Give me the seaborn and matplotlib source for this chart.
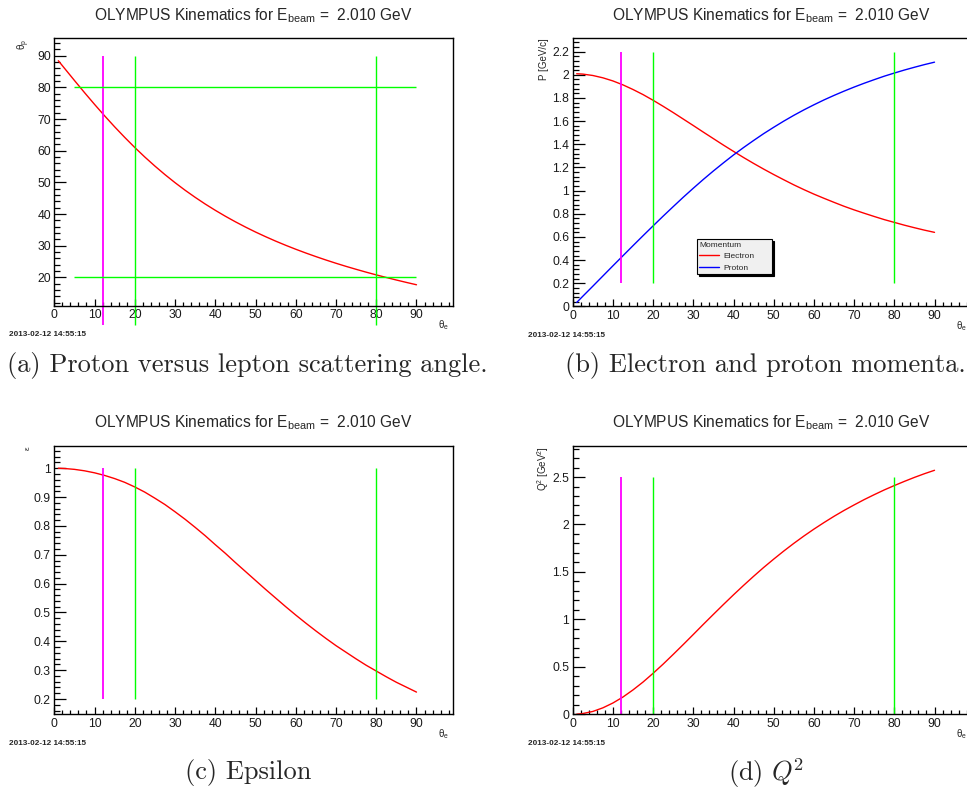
import matplotlib
matplotlib.use("Agg")
import matplotlib.pyplot as plt
import seaborn as sns
from matplotlib.ticker import MultipleLocator, FuncFormatter

# Kinematic curves (theta_e in degrees)
THETA_E = [1, 2.5, 5, 7.5, 10, 12.5, 15, 17.5, 20, 22.5, 25, 27.5, 30, 32.5, 35, 37.5,
           40, 42.5, 45, 47.5, 50, 52.5, 55, 57.5, 60, 62.5, 65, 67.5, 70, 72.5, 75,
           77.5, 80, 82.5, 85, 87.5, 90]
THETA_P = [88.42, 86.08, 82.19, 78.36, 74.63, 71.01, 67.53, 64.20, 61.01, 57.99, 55.14,
           52.44, 49.90, 47.51, 45.27, 43.15, 41.17, 39.30, 37.54, 35.88, 34.31, 32.84,
           31.44, 30.12, 28.87, 27.68, 26.55, 25.47, 24.44, 23.46, 22.53, 21.63, 20.77,
           19.95, 19.15, 18.39, 17.65]
P_ELECTRON = [2.009, 2.006, 1.994, 1.974, 1.947, 1.913, 1.873, 1.829, 1.780, 1.728,
              1.674, 1.618, 1.562, 1.505, 1.449, 1.393, 1.339, 1.286, 1.235, 1.186,
              1.139, 1.094, 1.050, 1.009, 0.970, 0.934, 0.899, 0.865, 0.834, 0.805,
              0.777, 0.750, 0.726, 0.702, 0.680, 0.659, 0.640]
P_PROTON = [0.035, 0.088, 0.175, 0.263, 0.351, 0.438, 0.525, 0.611, 0.696, 0.780,
            0.862, 0.943, 1.021, 1.097, 1.170, 1.240, 1.308, 1.372, 1.433, 1.492,
            1.547, 1.600, 1.650, 1.697, 1.741, 1.783, 1.822, 1.859, 1.894, 1.927,
            1.958, 1.988, 2.015, 2.041, 2.065, 2.088, 2.109]
EPSILON = [1.000, 0.999, 0.996, 0.991, 0.984, 0.975, 0.964, 0.951, 0.935, 0.917,
           0.896, 0.874, 0.849, 0.823, 0.795, 0.766, 0.735, 0.705, 0.673, 0.642,
           0.611, 0.580, 0.550, 0.520, 0.491, 0.463, 0.436, 0.410, 0.385, 0.362,
           0.339, 0.317, 0.297, 0.277, 0.258, 0.241, 0.224]
Q2 = [0.001, 0.008, 0.030, 0.068, 0.119, 0.182, 0.257, 0.340, 0.432, 0.529,
      0.631, 0.735, 0.841, 0.948, 1.053, 1.157, 1.259, 1.358, 1.454, 1.547,
      1.635, 1.720, 1.801, 1.878, 1.951, 2.020, 2.086, 2.148, 2.206, 2.262,
      2.314, 2.364, 2.410, 2.454, 2.496, 2.535, 2.571]

# acceptance cut lines
CUT_MAGENTA = [12]
CUT_GREEN = [20, 80]
THETA_P_CUTS = [20, 80]
CUT_RANGE_A = [5, 90]

TITLE = r"OLYMPUS Kinematics for E$_{\mathrm{beam}}$ =  2.010 GeV"
DATE = "2013-02-12 14:55:15"
CAPTIONS = ["(a) Proton versus lepton scattering angle.",
            "(b) Electron and proton momenta.",
            "(c) Epsilon",
            r"(d) $Q^{\!2}$"]

W, H = 967, 791
RED, BLUE, GREEN, MAGENTA = "#ff0000", "#0000ff", "#00ff00", "#ff00ff"

sns.set_style("ticks")
plt.rcParams["font.family"] = ["Liberation Sans", "DejaVu Sans"]
plt.rcParams["mathtext.fontset"] = "custom"
plt.rcParams["mathtext.rm"] = "Liberation Sans"
plt.rcParams["mathtext.it"] = "Liberation Sans:italic"
plt.rcParams["mathtext.bf"] = "Liberation Sans:bold"

fig = plt.figure(figsize=(W / 100, H / 100), dpi=100)
fig.patch.set_facecolor("white")


def px_axes(left, top, right, bottom):
    return fig.add_axes([left / W, 1 - bottom / H, (right - left) / W, (bottom - top) / H])


def fx(x):
    return x / W


def fy(y):
    return 1 - y / H


fmt = FuncFormatter(lambda v, _: f"{round(v, 3):g}")


def style_root(ax, ylim, ymajor, yminor):
    ax.set_xlim(0, 99)
    ax.set_ylim(*ylim)
    ax.xaxis.set_major_locator(MultipleLocator(10))
    ax.xaxis.set_minor_locator(MultipleLocator(2))
    ax.yaxis.set_major_locator(MultipleLocator(ymajor))
    ax.yaxis.set_minor_locator(MultipleLocator(yminor))
    ax.xaxis.set_major_formatter(fmt)
    ax.yaxis.set_major_formatter(fmt)
    ax.tick_params(axis="both", which="both", direction="in", top=False, right=False,
                   labelsize=8.7, colors="black", width=0.9)
    ax.tick_params(axis="both", which="both", labelcolor="#1a1a1a")
    ax.tick_params(axis="y", which="major", length=8.8, pad=2.5)
    ax.tick_params(axis="y", which="minor", length=4.6)
    ax.tick_params(axis="x", which="major", length=5.0, pad=2.5)
    ax.tick_params(axis="x", which="minor", length=2.8)
    for s in ax.spines.values():
        s.set_visible(True)
        s.set_color("black")
        s.set_linewidth(1.0)
    ax.set_xlabel("")
    ax.set_ylabel("")
    ax.set_facecolor("white")


# panel rectangles in pixels: left, top, right, bottom
rects = [(54.3, 38.3, 452.7, 305.5), (572.7, 38.3, 970.7, 306.5),
         (54.3, 445.7, 452.7, 714.3), (572.7, 445.7, 970.7, 714.3)]
axs = [px_axes(*r) for r in rects]

# (a) proton angle
ax = axs[0]
sns.lineplot(x=THETA_E, y=THETA_P, ax=ax, color=RED, lw=1.0)
ax.vlines(CUT_MAGENTA, CUT_RANGE_A[0], CUT_RANGE_A[1], color=MAGENTA, lw=1.3, clip_on=False)
ax.vlines(CUT_GREEN, CUT_RANGE_A[0], CUT_RANGE_A[1], color=GREEN, lw=1.0, clip_on=False)
ax.hlines(THETA_P_CUTS, CUT_RANGE_A[0], CUT_RANGE_A[1], color=GREEN, lw=1.0)
style_root(ax, (11.1, 95.5), 10, 2)

# (b) momenta
ax = axs[1]
sns.lineplot(x=THETA_E, y=P_ELECTRON, ax=ax, color=RED, lw=1.0, label="Electron")
sns.lineplot(x=THETA_E, y=P_PROTON, ax=ax, color=BLUE, lw=1.0, label="Proton")
ax.vlines(CUT_MAGENTA, 0.2, 2.2, color=MAGENTA, lw=1.3)
ax.vlines(CUT_GREEN, 0.2, 2.2, color=GREEN, lw=1.0)
style_root(ax, (0, 2.315), 0.2, 0.04)
leg = ax.legend(loc="upper left", bbox_to_anchor=(0.312, 0.1256, 0.189, 0.126),
                mode="expand", title="Momentum", fontsize=6, title_fontsize=6,
                frameon=True, fancybox=False, framealpha=1, borderaxespad=0,
                handlelength=2.3, handletextpad=0.6, labelspacing=0.45, borderpad=0.3,
                shadow={"ox": 1.2, "oy": -1.2, "color": "black", "alpha": 1})
leg.get_frame().set_facecolor("#f0f0f0")
leg.get_frame().set_edgecolor("black")
leg.get_frame().set_linewidth(0.8)
leg._legend_box.align = "left"

# (c) epsilon
ax = axs[2]
sns.lineplot(x=THETA_E, y=EPSILON, ax=ax, color=RED, lw=1.0)
ax.vlines(CUT_MAGENTA, 0.2, 1.0, color=MAGENTA, lw=1.3)
ax.vlines(CUT_GREEN, 0.2, 1.0, color=GREEN, lw=1.0)
style_root(ax, (0.147, 1.078), 0.1, 0.02)

# (d) Q^2
ax = axs[3]
sns.lineplot(x=THETA_E, y=Q2, ax=ax, color=RED, lw=1.0)
ax.vlines(CUT_MAGENTA, 0.0, 2.5, color=MAGENTA, lw=1.3)
ax.vlines(CUT_GREEN, 0.0, 2.5, color=GREEN, lw=1.0)
style_root(ax, (0, 2.83), 0.5, 0.1)

# titles, axis titles, date stamps
for (l, t, r, b) in rects:
    cx = (l + r) / 2
    fig.text(fx(cx), fy(t - 23), TITLE, ha="center", va="center", fontsize=11.2)
    fig.text(fx(r - 9), fy(b + 20), r"θ$_{\mathrm{e}}$", ha="center", va="center", fontsize=7)
    fig.text(fx(l - 45), fy(b + 29), DATE, ha="left", va="center", fontsize=5.9,
             fontweight="bold")

fig.text(fx(24), fy(38.5), r"θ$_{\mathrm{p}}$", rotation=90, ha="center", va="top", fontsize=7)
fig.text(fx(544), fy(38.5), "P [GeV/c]", rotation=90, ha="center", va="top", fontsize=7)
fig.text(fx(28), fy(446), "ε", rotation=90, ha="center", va="top", fontsize=6)
fig.text(fx(543), fy(446), r"Q$^{2}$ [GeV$^{2}$]", rotation=90, ha="center", va="top", fontsize=7)

# LaTeX-style sub-captions
cap_kw = dict(fontsize=19, family="cmr10", math_fontfamily="cm", va="center")
fig.text(fx(7), fy(366), CAPTIONS[0], ha="left", **cap_kw)
fig.text(fx(565), fy(366), CAPTIONS[1], ha="left", **cap_kw)
fig.text(fx(248.5), fy(773), CAPTIONS[2], ha="center", **cap_kw)
fig.text(fx(766), fy(773), CAPTIONS[3], ha="center", **cap_kw)

fig.savefig("out.png", dpi=100, facecolor="white")
